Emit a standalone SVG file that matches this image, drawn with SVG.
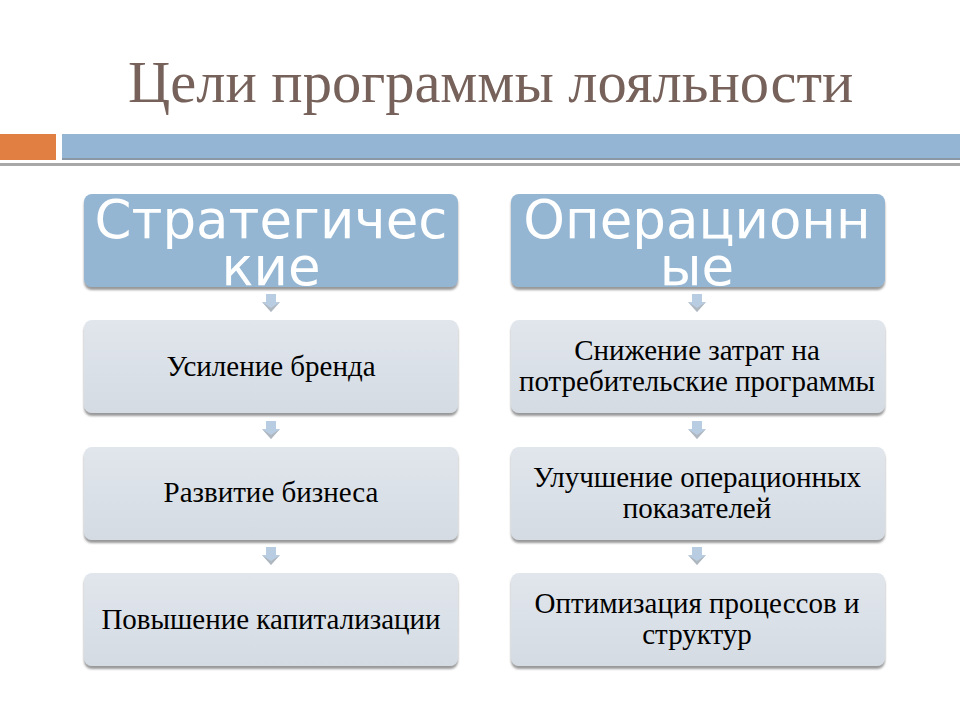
<svg xmlns="http://www.w3.org/2000/svg" width="960" height="720" viewBox="0 0 960 720">
<defs>
<linearGradient id="boxg" x1="0" y1="0" x2="0" y2="1">
<stop offset="0" stop-color="#e1e6ec"/>
<stop offset="1" stop-color="#d4dbe3"/>
</linearGradient>
<filter id="sh" x="-5%" y="-5%" width="110%" height="120%">
<feDropShadow dx="0" dy="3" stdDeviation="1.2" flood-color="#555" flood-opacity="0.6"/>
</filter>
<symbol id="arrow" overflow="visible">
<path d="M-5,0 H5 V8 H9 L0,18 L-9,8 H-5 Z" fill="#b9cde2"/>
<path d="M-9,8 L0,18 L9,8 L0,14 Z" fill="#a8a8a8" opacity="0.6"/>
</symbol>
</defs>
<style>
.title{font-family:"Liberation Serif",serif;font-size:58.5px;fill:#76625a}
.hdr{fill:#94b6d3;filter:url(#sh)}
.htxt{font-family:"DejaVu Sans",sans-serif;font-size:53px;fill:#ffffff;text-anchor:middle}
.box{fill:url(#boxg);filter:url(#sh)}
.btxt{font-family:"Liberation Serif",serif;font-size:29px;fill:#000;text-anchor:middle}
</style>
<rect width="960" height="720" fill="#fff"/>
<text class="title" x="128" y="102">Цели программы лояльности</text>
<rect x="0" y="134" width="56" height="26" fill="#e07f41"/>
<rect x="62" y="134" width="898" height="25" fill="#94b5d3"/>
<rect x="62" y="158" width="898" height="2" fill="#8a98a6"/>
<rect x="0" y="163" width="960" height="3" fill="#a8a8a8"/>

<g id="connectors">
<use href="#arrow" x="271" y="294"/>
<use href="#arrow" x="271" y="421"/>
<use href="#arrow" x="271" y="547"/>
<use href="#arrow" x="697" y="294"/>
<use href="#arrow" x="697" y="421"/>
<use href="#arrow" x="697" y="547"/>
</g>

<g id="hdr-left">
<rect class="hdr" x="84" y="194" width="374" height="93" rx="8"/>
<text class="htxt" x="271" y="238">Стратегичес</text>
<text class="htxt" x="271" y="285">кие</text>
</g>
<g id="hdr-right">
<rect class="hdr" x="511" y="194" width="374" height="93" rx="8"/>
<text class="htxt" x="697" y="238">Операционн</text>
<text class="htxt" x="697" y="285">ые</text>
</g>

<g id="l1">
<rect class="box" x="84" y="320" width="374" height="93" rx="8"/>
<text class="btxt" x="271" y="376">Усиление бренда</text>
</g>
<g id="l2">
<rect class="box" x="84" y="447" width="374" height="93" rx="8"/>
<text class="btxt" x="271" y="502">Развитие бизнеса</text>
</g>
<g id="l3">
<rect class="box" x="84" y="573" width="374" height="93" rx="8"/>
<text class="btxt" x="271" y="629">Повышение капитализации</text>
</g>

<g id="r1">
<rect class="box" x="511" y="320" width="374" height="93" rx="8"/>
<text class="btxt" x="697" y="360">Снижение затрат на</text>
<text class="btxt" x="697" y="391">потребительские программы</text>
</g>
<g id="r2">
<rect class="box" x="511" y="447" width="374" height="93" rx="8"/>
<text class="btxt" x="697" y="487">Улучшение операционных</text>
<text class="btxt" x="697" y="518">показателей</text>
</g>
<g id="r3">
<rect class="box" x="511" y="573" width="374" height="93" rx="8"/>
<text class="btxt" x="697" y="613">Оптимизация процессов и</text>
<text class="btxt" x="697" y="644">структур</text>
</g>
</svg>
